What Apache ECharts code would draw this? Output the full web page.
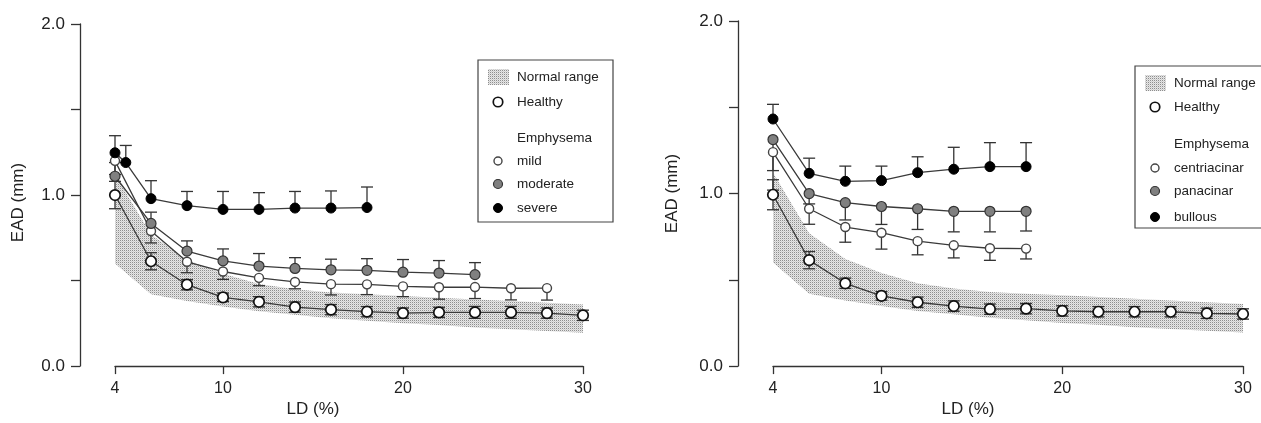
<!DOCTYPE html>
<html lang="en">
<head>
<meta charset="UTF-8">
<title>EAD vs LD</title>
<script src="https://cdn.jsdelivr.net/npm/echarts@6/dist/echarts.min.js"></script>
<style>
  html, body { margin: 0; padding: 0; background: #fff; }
  #chart { width: 1261px; height: 423px; }
</style>
</head>
<body>
<div id="chart"></div>
<script>
// ---- data (LD % on x, EAD mm on y) ----
var ldAll = [4, 6, 8, 10, 12, 14, 16, 18, 20, 22, 24, 26, 28, 30];
var ldSevere = [4, 4.6, 6, 8, 10, 12, 14, 16, 18];
var ldModerate = [4, 6, 8, 10, 12, 14, 16, 18, 20, 22, 24];
var ldMild = [4, 6, 8, 10, 12, 14, 16, 18, 20, 22, 24, 26, 28];
var ldSubtype = [4, 6, 8, 10, 12, 14, 16, 18];

// normal range band (same in both panels)
var normalLow = [0.6, 0.42, 0.38, 0.348, 0.32, 0.3, 0.28, 0.265, 0.25, 0.24, 0.225, 0.215, 0.205, 0.195];
var normalHigh = [1.12, 0.77, 0.62, 0.54, 0.48, 0.45, 0.43, 0.42, 0.41, 0.4, 0.39, 0.38, 0.37, 0.36];

// left panel: severity
var healthyL = [1.0, 0.613, 0.476, 0.402, 0.376, 0.345, 0.33, 0.318, 0.31, 0.314, 0.314, 0.314, 0.31, 0.297];
var healthyLsd = [0.08, 0.05, 0.03, 0.025, 0.03, 0.03, 0.03, 0.03, 0.03, 0.03, 0.035, 0.035, 0.03, 0.03];
var mild = [1.2, 0.79, 0.61, 0.553, 0.516, 0.492, 0.479, 0.478, 0.466, 0.461, 0.462, 0.455, 0.456];
var mildSd = [0.08, 0.07, 0.064, 0.046, 0.046, 0.04, 0.063, 0.06, 0.06, 0.07, 0.067, 0.068, 0.07];
var moderate = [1.11, 0.834, 0.672, 0.615, 0.585, 0.571, 0.563, 0.56, 0.549, 0.544, 0.535];
var moderateSd = [0.08, 0.066, 0.06, 0.07, 0.073, 0.063, 0.062, 0.068, 0.074, 0.073, 0.07];
var severe = [1.247, 1.19, 0.979, 0.938, 0.916, 0.916, 0.924, 0.924, 0.927];
var severeSd = [0.1, 0.1, 0.105, 0.083, 0.105, 0.098, 0.097, 0.1, 0.12];

// right panel: subtype
var healthyR = [0.993, 0.614, 0.48, 0.407, 0.37, 0.348, 0.33, 0.333, 0.32, 0.315, 0.315, 0.315, 0.306, 0.302];
var healthyRsd = [0.087, 0.05, 0.03, 0.025, 0.03, 0.03, 0.03, 0.03, 0.03, 0.03, 0.03, 0.03, 0.03, 0.03];
var centriacinar = [1.24, 0.912, 0.806, 0.773, 0.724, 0.7, 0.683, 0.681];
var centriacinarSd = [0.22, 0.09, 0.088, 0.095, 0.079, 0.073, 0.07, 0.06];
var panacinar = [1.313, 1.0, 0.947, 0.925, 0.912, 0.897, 0.897, 0.897];
var panacinarSd = [0.18, 0.06, 0.1, 0.104, 0.12, 0.119, 0.119, 0.114];
var bullous = [1.432, 1.117, 1.071, 1.075, 1.121, 1.141, 1.156, 1.156];
var bullousSd = [0.085, 0.088, 0.088, 0.084, 0.092, 0.127, 0.139, 0.139];

var xTicks = [4, 10, 20, 30];
var yLabels = [0, 1, 2];

// ---- styles ----
var FONT = '"Liberation Sans", Arial, Helvetica, sans-serif';
var INK = '#333';

// stipple pattern for the normal range (sparse grey dots)
var pat = document.createElement('canvas');
pat.width = 2; pat.height = 2;
var pctx = pat.getContext('2d');
pctx.fillStyle = '#e6e6e6'; pctx.fillRect(0, 0, 2, 2);
pctx.fillStyle = '#8e8e8e'; pctx.fillRect(0, 0, 1, 1);
pctx.fillStyle = '#cfcfcf'; pctx.fillRect(1, 1, 1, 1);
var stipple = { image: pat, repeat: 'repeat' };

var markers = {
    healthy: { color: '#fff', borderColor: '#111', borderWidth: 1.7, size: 10.5 },
    light: { color: '#fff', borderColor: '#444', borderWidth: 1.4, size: 9 },
    gray: { color: '#808080', borderColor: '#333', borderWidth: 1.2, size: 10 },
    black: { color: '#000', borderColor: '#000', borderWidth: 1, size: 10 }
};

function zip(xs, ys) {
    return xs.map(function (x, i) { return [x, ys[i]]; });
}

function lineSeries(idx, xs, ys, m) {
    return {
        type: 'line', xAxisIndex: idx, yAxisIndex: idx,
        data: zip(xs, ys),
        symbol: 'circle', symbolSize: m.size,
        lineStyle: { color: '#3a3a3a', width: 1.3 },
        itemStyle: { color: m.color, borderColor: m.borderColor, borderWidth: m.borderWidth },
        z: 4, silent: true, animation: false
    };
}

// dir: 1 = upper bar, -1 = lower bar, 0 = both
function errSeries(idx, xs, ys, sds, dir) {
    var data = xs.map(function (x, i) {
        return [x, ys[i], dir <= 0 ? ys[i] - sds[i] : ys[i], dir >= 0 ? ys[i] + sds[i] : ys[i]];
    });
    return {
        type: 'custom', xAxisIndex: idx, yAxisIndex: idx,
        data: data, encode: { x: 0, y: [1, 2, 3] },
        z: 3, silent: true, animation: false,
        renderItem: function (params, api) {
            var c = api.coord([api.value(0), api.value(1)]);
            var lo = api.coord([api.value(0), api.value(2)]);
            var hi = api.coord([api.value(0), api.value(3)]);
            var st = { stroke: INK, lineWidth: 1.3 };
            var w = 6;
            var kids = [{ type: 'line', shape: { x1: c[0], y1: lo[1], x2: c[0], y2: hi[1] }, style: st }];
            if (api.value(3) > api.value(1)) {
                kids.push({ type: 'line', shape: { x1: c[0] - w, y1: hi[1], x2: c[0] + w, y2: hi[1] }, style: st });
            }
            if (api.value(2) < api.value(1)) {
                kids.push({ type: 'line', shape: { x1: c[0] - w, y1: lo[1], x2: c[0] + w, y2: lo[1] }, style: st });
            }
            return { type: 'group', children: kids };
        }
    };
}

// normal range: one polygon through the band's upper then lower edge
function bandSeries(idx) {
    return {
        type: 'custom', xAxisIndex: idx, yAxisIndex: idx,
        data: ldAll.map(function (x, i) { return [x, normalLow[i], normalHigh[i]]; }),
        encode: { x: 0, y: [1, 2] },
        z: 1, silent: true, animation: false,
        renderItem: function (params, api) {
            if (params.dataIndex !== 0) return null;
            var pts = [];
            for (var i = 0; i < ldAll.length; i++) pts.push(api.coord([ldAll[i], normalHigh[i]]));
            for (var j = ldAll.length - 1; j >= 0; j--) pts.push(api.coord([ldAll[j], normalLow[j]]));
            return { type: 'polygon', shape: { points: pts }, style: { fill: stipple } };
        }
    };
}

function xAxisCfg(idx, shift) {
    return {
        gridIndex: idx, type: 'value', min: 4, max: 30,
        axisLine: { show: true, onZero: false, lineStyle: { color: INK, width: 1.3 } },
        axisTick: { show: true, length: 8, customValues: xTicks, lineStyle: { color: INK, width: 1.3 } },
        axisLabel: { customValues: xTicks, fontSize: 16, color: '#222', fontFamily: FONT, margin: 14 },
        splitLine: { show: false },
        name: 'LD (%)', nameLocation: 'middle', nameGap: 17,
        nameTextStyle: { fontSize: 17, color: '#222', fontFamily: FONT, padding: [0, shift, 0, 0] }
    };
}

function yAxisCfg(idx, gap, pad) {
    return {
        gridIndex: idx, type: 'value', min: 0, max: 2, interval: 0.5, offset: 35,
        axisLine: { show: true, onZero: false, lineStyle: { color: INK, width: 1.3 } },
        axisTick: { show: true, length: 9, lineStyle: { color: INK, width: 1.3 } },
        axisLabel: {
            customValues: yLabels, fontSize: 17, color: '#222', fontFamily: FONT, margin: 15,
            formatter: function (v) { return v.toFixed(1); }
        },
        splitLine: { show: false },
        name: 'EAD (mm)', nameLocation: 'middle', nameGap: gap, nameRotate: 90,
        nameTextStyle: { fontSize: 17, color: '#222', fontFamily: FONT, padding: [0, pad, 0, 0] }
    };
}

// legend drawn as graphics
function legend(x0, y0, x1, y1, rows, labels) {
    var tx = rows.textX, sx = rows.symX;
    var txt = function (t, y) {
        return { type: 'text', style: { x: tx, y: y, text: t, font: '13.5px ' + FONT, fill: '#222', verticalAlign: 'middle' } };
    };
    var dot = function (m, y) {
        return { type: 'circle', shape: { cx: sx, cy: y, r: m.size / 2 - 0.5 }, style: { fill: m.color, stroke: m.borderColor, lineWidth: m.borderWidth } };
    };
    return {
        type: 'group', silent: true, z: 100,
        children: [
            { type: 'rect', shape: { x: x0, y: y0, width: x1 - x0, height: y1 - y0 }, style: { fill: '#fff', stroke: '#444', lineWidth: 1.2 } },
            { type: 'rect', shape: { x: sx - 10, y: rows.y[0] - 8, width: 21, height: 16 }, style: { fill: stipple } },
            txt('Normal range', rows.y[0]),
            dot(markers.healthy, rows.y[1]), txt('Healthy', rows.y[1]),
            txt('Emphysema', rows.y[2]),
            dot(markers.light, rows.y[3]), txt(labels[0], rows.y[3]),
            dot(markers.gray, rows.y[4]), txt(labels[1], rows.y[4]),
            dot(markers.black, rows.y[5]), txt(labels[2], rows.y[5])
        ]
    };
}

var chart = echarts.init(document.getElementById('chart'), null, { renderer: 'canvas' });

var series = [].concat(
    bandSeries(0),
    errSeries(0, ldAll, healthyL, healthyLsd, 0),
    errSeries(0, ldMild, mild, mildSd, -1),
    errSeries(0, ldModerate, moderate, moderateSd, 1),
    errSeries(0, ldSevere, severe, severeSd, 1),
    lineSeries(0, ldAll, healthyL, markers.healthy),
    lineSeries(0, ldMild, mild, markers.light),
    lineSeries(0, ldModerate, moderate, markers.gray),
    lineSeries(0, ldSevere, severe, markers.black),

    bandSeries(1),
    errSeries(1, ldAll, healthyR, healthyRsd, 0),
    errSeries(1, ldSubtype, centriacinar, centriacinarSd, -1),
    errSeries(1, ldSubtype, panacinar, panacinarSd, -1),
    errSeries(1, ldSubtype, bullous, bullousSd, 1),
    lineSeries(1, ldAll, healthyR, markers.healthy),
    lineSeries(1, ldSubtype, centriacinar, markers.light),
    lineSeries(1, ldSubtype, panacinar, markers.gray),
    lineSeries(1, ldSubtype, bullous, markers.black)
);

chart.setOption({
    backgroundColor: '#fff',
    animation: false,
    textStyle: { fontFamily: FONT },
    grid: [
        { left: 115, top: 24, width: 468, height: 363 },
        { left: 773, top: 21, width: 470, height: 364 }
    ],
    xAxis: [xAxisCfg(0, 72), xAxisCfg(1, 80)],
    yAxis: [yAxisCfg(0, 53, 15), yAxisCfg(1, 57, 0)],
    series: series,
    graphic: [
        legend(478, 60, 613, 222, { textX: 517, symX: 498, y: [77, 102, 138, 161, 184, 208] }, ['mild', 'moderate', 'severe']),
        legend(1135, 66, 1262, 228, { textX: 1174, symX: 1155, y: [83, 107, 144, 168, 191, 217] }, ['centriacinar', 'panacinar', 'bullous'])
    ]
});
</script>
</body>
</html>
